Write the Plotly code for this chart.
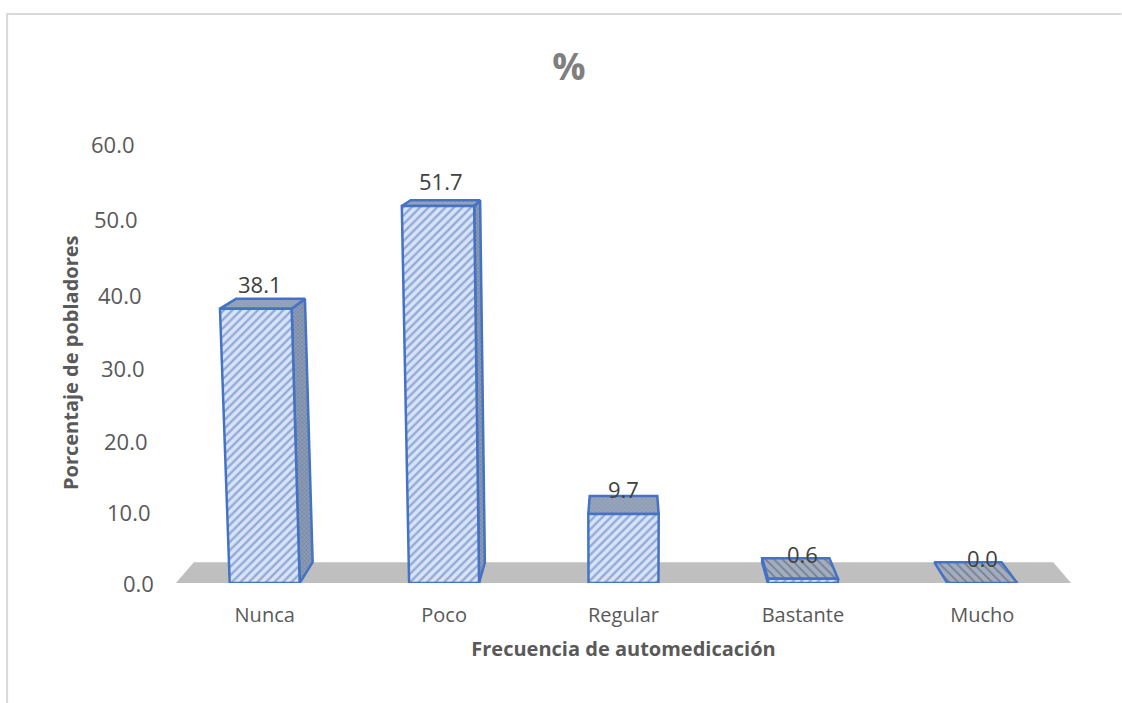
"""Frecuencia de automedicación: barras 3D en perspectiva con Plotly"""
import numpy as np
import plotly.graph_objects as go

CATEGORIES = ['Nunca', 'Poco', 'Regular', 'Bastante', 'Mucho']
VALUES = [38.1, 51.7, 9.7, 0.6, 0.0]
VALUE_LABELS = ['38.1', '51.7', '9.7', '0.6', '0.0']

Y_TICK_VALUES = [0, 10, 20, 30, 40, 50, 60]
Y_TICK_TEXT = ['0.0', '10.0', '20.0', '30.0', '40.0', '50.0', '60.0']
# el eje original no es lineal por la perspectiva
Y_TICK_POS = [0, 9.73, 19.45, 29.45, 39.45, 49.86, 60.1]

TITLE = '%'
X_TITLE = 'Frecuencia de automedicación'
Y_TITLE = 'Porcentaje de pobladores'

FONT = 'Open Sans'
BLUE = '#4472c4'
GRID_GREY = '#bfbfbf'
TEXT_GREY = '#595959'

# perspectiva (unidades de eje)
VP_X = 2.0
VP_Y = 71.0
LEAN = 6.6e-4
DEPTH = 0.04
HALF_W = 0.195
FLOOR_L, FLOOR_R = -0.495, 4.495
TICK_X = -0.607
X_RANGE = [-0.5, 4.5]


def axis_pos(v):
    """Posición en el eje lineal de la figura para un valor del eje original"""
    return float(np.interp(v, Y_TICK_VALUES, Y_TICK_POS))


def project(x, v, d=0.0):
    """Proyecta un punto (categoría, valor, profundidad) al plano de la figura"""
    y = axis_pos(v)
    x0 = VP_X + (x - VP_X) * (1 + LEAN * y)
    return VP_X + (x0 - VP_X) * (1 - d), y + (VP_Y - y) * d


def add_face(fig, points, bg, fg, shape, size, solidity, line=True):
    xs, ys = zip(*[project(*p) for p in points + points[:1]])
    fig.add_trace(go.Scatter(
        x=list(xs), y=list(ys), mode='lines', fill='toself', cliponaxis=False,
        fillcolor=bg,
        fillpattern=dict(shape=shape, bgcolor=bg, fgcolor=fg, size=size, solidity=solidity) if shape else None,
        line=dict(color=BLUE if line else bg, width=2.5 if line else 0),
        hoverinfo='skip', showlegend=False,
    ))


fig = go.Figure()

# piso gris
add_face(fig, [(FLOOR_L, 0, 0), (FLOOR_R, 0, 0), (FLOOR_R, 0, DEPTH), (FLOOR_L, 0, DEPTH)],
         GRID_GREY, GRID_GREY, '', 6, 0.3, line=False)

for i, v in enumerate(VALUES):
    l, r = i - HALF_W, i + HALF_W
    # cara lateral
    if r < VP_X:
        add_face(fig, [(r, 0, 0), (r, v, 0), (r, v, DEPTH), (r, 0, DEPTH)],
                 '#8c9bb5', '#4a5a78', 'x', 3, 0.3)
    elif l > VP_X and v > 0:
        add_face(fig, [(l, 0, 0), (l, v, 0), (l, v, DEPTH), (l, 0, DEPTH)],
                 '#8c9bb5', '#4a5a78', '\\', 5, 0.3)
    # cara superior
    if v > 5:
        add_face(fig, [(l, v, 0), (r, v, 0), (r, v, DEPTH), (l, v, DEPTH)],
                 '#98a6bd', '#6a7a96', 'x', 3, 0.3)
    else:
        add_face(fig, [(l, v, 0), (r, v, 0), (r, v, DEPTH), (l, v, DEPTH)],
                 '#a3adbd', '#44546a', '\\', 6, 0.3)
    # cara frontal
    if v > 0:
        add_face(fig, [(l, 0, 0), (r, 0, 0), (r, v, 0), (l, v, 0)],
                 '#dae3f3', BLUE, '/', 6, 0.4)

# etiquetas del eje Y, inclinadas con la perspectiva
for tick, label in zip(Y_TICK_VALUES, Y_TICK_TEXT):
    tx, ty = project(TICK_X, tick)
    fig.add_annotation(x=(tx - X_RANGE[0]) / (X_RANGE[1] - X_RANGE[0]), xref='paper', y=ty, text=label,
                       showarrow=False, xanchor='right', yanchor='middle',
                       font=dict(family=FONT, size=22, color=TEXT_GREY))

# etiquetas de valor
for i, (v, label) in enumerate(zip(VALUES, VALUE_LABELS)):
    px, py = project(i, v / 2)[0], project(i, v)[1]
    fig.add_annotation(
        x=px, y=py, yshift=25, text=label, showarrow=False, xanchor='center', yanchor='middle',
        font=dict(family=FONT, size=22, color='#404040'),
    )

fig.add_annotation(
    xref='paper', yref='paper', x=(70 - 175) / 897.5, y=(583 - 363) / 453, text=f'<b>{Y_TITLE}</b>',
    xanchor='center', yanchor='middle', textangle=-90, showarrow=False,
    font=dict(family=FONT, size=20, color=TEXT_GREY),
)

# marco del gráfico
fig.add_shape(type='path', xref='paper', yref='paper',
              path=f'M {(7 - 175) / 897.5} {(583 - 703) / 453} L {(7 - 175) / 897.5} {(583 - 14) / 453} L {(1122 - 175) / 897.5} {(583 - 14) / 453}',
              line=dict(color='#d9d9d9', width=2))

fig.update_layout(
    title=dict(text=f'<b>{TITLE}</b>', x=569 / 1122, xanchor='center', y=1 - 67 / 703, yanchor='middle',
               font=dict(family=FONT, size=37, color='#7f7f7f')),
    width=1122, height=703,
    margin=dict(l=175, r=49.5, t=130, b=120),
    paper_bgcolor='white', plot_bgcolor='white',
    showlegend=False,
)
fig.update_xaxes(
    range=X_RANGE, tickvals=list(range(len(CATEGORIES))), ticktext=CATEGORIES,
    showgrid=False, zeroline=False, showline=False, ticks='', ticklabelstandoff=18,
    tickfont=dict(family=FONT, size=20, color=TEXT_GREY),
    title=dict(text=f'<b>{X_TITLE}</b>', font=dict(family=FONT, size=20, color=TEXT_GREY), standoff=14),
)
fig.update_yaxes(range=[0, 62], showgrid=False, zeroline=False, showline=False, showticklabels=False, ticks='')

fig.write_html("out.html", config=dict(displayModeBar=False), post_script="document.body.style.margin='0';")
